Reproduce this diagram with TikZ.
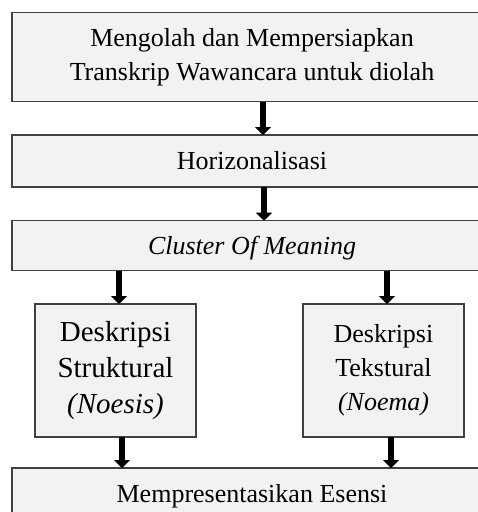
\documentclass[tikz,border=0pt]{standalone}
\usepackage{fontspec}
\setmainfont{Liberation Serif}
\usetikzlibrary{arrows.meta, positioning}

\begin{document}
\begin{tikzpicture}[
  x=1pt, y=-1pt,
  node distance = 33pt and 23pt,
  >=Triangle,  % Arrow tip
  % Define block styles
  mainblock/.style={
    draw=black!75,
    line width=1.2pt,
    fill=black!5,
    inner sep=0pt,
    outer sep=0pt,
    minimum width=480pt,
    align=center,
    font=\fontsize{26}{34}\selectfont
  },
  lineblock/.style={
    mainblock,
    text height=34pt,
    text depth=#1
  },
  sideblock/.style={
    mainblock,
    minimum width=161pt,
    minimum height=133pt
  },
  % Arrows style
  connector/.style={
    -{Triangle[width=16pt, length=8pt]},
    line width=6.5pt
  }
]

\path[use as bounding box, clip] (0,0) rectangle (478,512);

% -----------------------------------------------
% MAIN FLOW
% -----------------------------------------------
\node[mainblock, minimum height=89pt, anchor=north west] (prepBox) at (12,12.7) {
  Mengolah dan Mempersiapkan\\
  Transkrip Wawancara untuk diolah
};

\node[lineblock=18pt, below=33.3pt of prepBox] (horizBox) {Horizonalisasi};

\node[lineblock=16pt, below=33.7pt of horizBox] (clusterBox) {\itshape Cluster Of Meaning};

% -----------------------------------------------
% DESCRIPTIONS
% -----------------------------------------------
\node[sideblock, font=\fontsize{29}{36}\selectfont,
  below right=33.3pt and 23pt of clusterBox.south west] (strukturBox) {
  Deskripsi\\
  Struktural\\
  \textit{(Noesis)}
};

\node[sideblock, below left=33.3pt and 28pt of clusterBox.south east] (teksturBox) {
  Deskripsi\\
  Tekstural\\
  \textit{(Noema)}
};

\node[lineblock=18pt, anchor=north west] (esensiBox) at (12,468) {Mempresentasikan Esensi};

% -----------------------------------------------
% ARROWS AND CONNECTIONS
% -----------------------------------------------
\draw[connector] ([xshift=11pt]prepBox.south) -- ([xshift=11pt]horizBox.north);
\draw[connector] ([xshift=12pt]horizBox.south) -- ([xshift=12pt]clusterBox.north);

% Split into the two descriptions
\draw[connector] ([xshift=3.5pt]clusterBox.south -| strukturBox.north) -- ([xshift=3.5pt]strukturBox.north);
\draw[connector] ([xshift=3.5pt]clusterBox.south -| teksturBox.north) -- ([xshift=3.5pt]teksturBox.north);

% Join into the essence
\draw[connector] ([xshift=6.5pt]strukturBox.south) -- ([xshift=6.5pt]esensiBox.north -| strukturBox.south);
\draw[connector] ([xshift=7.5pt]teksturBox.south) -- ([xshift=7.5pt]esensiBox.north -| teksturBox.south);

\end{tikzpicture}
\end{document}
